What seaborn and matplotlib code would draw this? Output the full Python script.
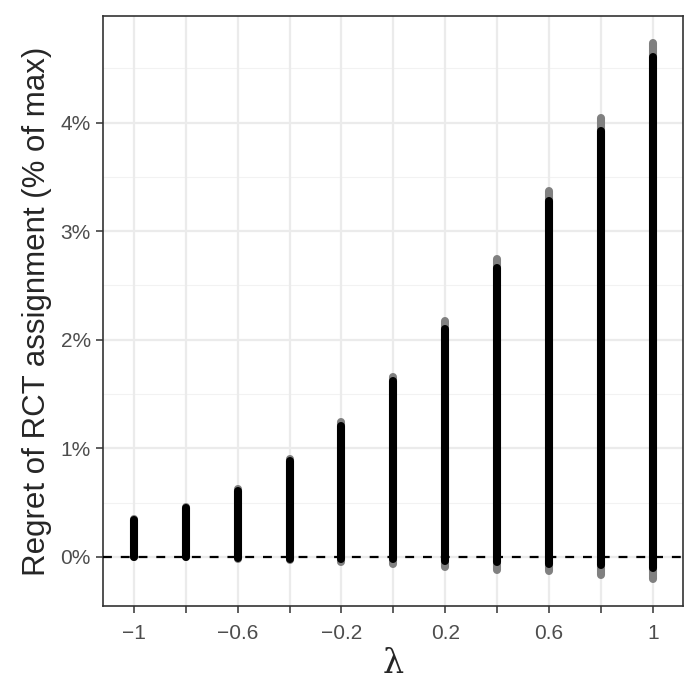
import numpy as np
import pandas as pd
import matplotlib
matplotlib.use("Agg")
import matplotlib.pyplot as plt
import seaborn as sns

# regret ranges per lambda (in % of max)
lam = [-1.0, -0.8, -0.6, -0.4, -0.2, 0.0, 0.2, 0.4, 0.6, 0.8, 1.0]
black_lo = [0.00, 0.00, -0.01, -0.02, -0.02, -0.02, -0.04, -0.05, -0.06, -0.07, -0.10]
black_hi = [0.34, 0.45, 0.61, 0.88, 1.21, 1.62, 2.10, 2.66, 3.28, 3.92, 4.60]
gray_lo = [0.00, 0.00, -0.02, -0.03, -0.05, -0.06, -0.09, -0.12, -0.13, -0.17, -0.20]
gray_hi = [0.35, 0.46, 0.63, 0.90, 1.24, 1.66, 2.17, 2.74, 3.37, 4.04, 4.73]

x_ticks = lam
x_labels = ["\u22121", "", "\u22120.6", "", "\u22120.2", "", "0.2", "", "0.6", "", "1"]
y_ticks = [0, 1, 2, 3, 4]
y_labels = ["0%", "1%", "2%", "3%", "4%"]

# long format: two points (low, high) per lambda
def to_long(lo, hi):
    return pd.DataFrame({
        "lam": lam + lam,
        "regret": lo + hi,
    })

df_gray = to_long(gray_lo, gray_hi)
df_black = to_long(black_lo, black_hi)

sns.set_theme(style="white")
plt.rcParams['font.family'] = ['Liberation Sans', 'DejaVu Sans']

fig, ax = plt.subplots(figsize=(6.98, 6.98), dpi=100)
fig.subplots_adjust(left=0.148, right=0.979, top=0.977, bottom=0.132)

# grid like theme_bw
ax.set_axisbelow(True)
for yv in [0.5, 1.5, 2.5, 3.5, 4.5]:
    ax.axhline(yv, color="#F2F2F2", lw=0.8, zorder=0)
ax.grid(True, which="major", color="#EBEBEB", lw=1.6)

sns.lineplot(data=df_gray, x="lam", y="regret", units="lam", estimator=None,
             sort=False, color="#808080", linewidth=5.8,
             solid_capstyle="round", ax=ax, zorder=2)
sns.lineplot(data=df_black, x="lam", y="regret", units="lam", estimator=None,
             sort=False, color="black", linewidth=5.8,
             solid_capstyle="round", ax=ax, zorder=3)

ax.axhline(0, color="black", lw=1.6, linestyle=(0, (4, 4)), zorder=4)

ax.set_xlim(-1.118, 1.118)
ax.set_ylim(-0.45, 4.98)
ax.set_xticks(x_ticks)
ax.set_xticklabels(x_labels)
ax.set_yticks(y_ticks)
ax.set_yticklabels(y_labels)

ax.tick_params(axis="both", which="major", length=5, width=1.1, color="#333333",
               labelsize=15, labelcolor="#4D4D4D", pad=4, direction="out",
               bottom=True, left=True)
ax.tick_params(axis="x", pad=8)

for s in ax.spines.values():
    s.set_color("#333333")
    s.set_linewidth(1.2)

ax.set_xlabel("\u03bb", fontsize=24, family=["DejaVu Serif"], labelpad=4)
ax.set_ylabel("Regret of RCT assignment (% of max)", fontsize=22.5, labelpad=6)

fig.savefig("out.png", dpi=100)
